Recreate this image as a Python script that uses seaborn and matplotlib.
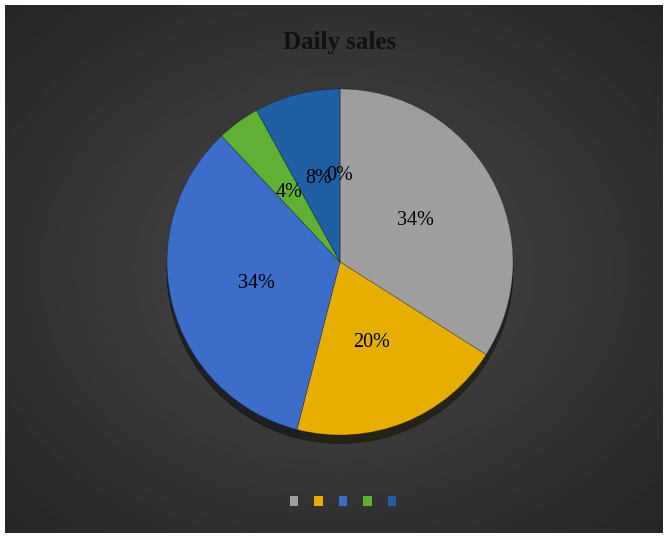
import numpy as np
import matplotlib
matplotlib.use("Agg")
import matplotlib.pyplot as plt
import seaborn as sns

sns.set_theme(style="dark")
plt.rcParams["font.family"] = ["Liberation Serif", "DejaVu Serif"]

# Daily sales share by category
categories = ["A", "B", "C", "D", "E", "F"]
shares = [34, 20, 34, 4, 8, 0]
slice_colors = ["#9e9e9e", "#e6ae00", "#3b6dc9", "#5fb035", "#1f5fa3", "#264478"]

fig = plt.figure(figsize=(6.68, 5.38), dpi=100)
fig.patch.set_facecolor("white")

# dark radial-gradient panel inside a thin white frame
bg = fig.add_axes([5 / 668, 5 / 538, 658 / 668, 528 / 538])
yy, xx = np.mgrid[-1:1:300j, -1:1:300j]
rr = np.sqrt(xx ** 2 + yy ** 2) / np.sqrt(2)
bg.imshow(0.285 - 0.135 * rr, cmap="gray", vmin=0, vmax=1, aspect="auto",
          extent=[0, 1, 0, 1], interpolation="bilinear")
bg.set_axis_off()

# pie drawn in a dedicated square axes
cx, cy, rad = 340, 262, 173
pax = fig.add_axes([(cx - rad) / 668, 1 - (cy + rad) / 538, 2 * rad / 668, 2 * rad / 538])
pax.set_facecolor("none")
wedges, texts = pax.pie(
    shares, colors=slice_colors, startangle=90, counterclock=False,
    labels=[f"{v}%" for v in shares], labeldistance=0.5,
    textprops=dict(fontsize=14.5, color="black"),
    wedgeprops=dict(linewidth=0.6, edgecolor=(0, 0, 0, 0.25)),
    shadow=dict(ox=0.0, oy=-0.035, shade=0.9, alpha=0.55),
)
for t in texts:
    t.set_horizontalalignment("center")
pax.set_xlim(-1, 1)
pax.set_ylim(-1, 1)
pax.set_aspect("auto")
pax.set_axis_off()

fig.text(340 / 668, 1 - 42 / 538, "Daily sales", ha="center", va="center",
         fontsize=18, fontweight="bold", color="#111111")

# legend markers without text
handles = [plt.Rectangle((0, 0), 1, 1, facecolor=c, edgecolor="none")
           for c in slice_colors[:5]]
fig.legend(handles, [""] * 5, loc="center", bbox_to_anchor=(343 / 668, 1 - 503 / 538),
           ncol=5, frameon=False, handlelength=0.55, handleheight=0.55,
           columnspacing=1.05, handletextpad=0.0)

fig.savefig("out.png", dpi=100)
